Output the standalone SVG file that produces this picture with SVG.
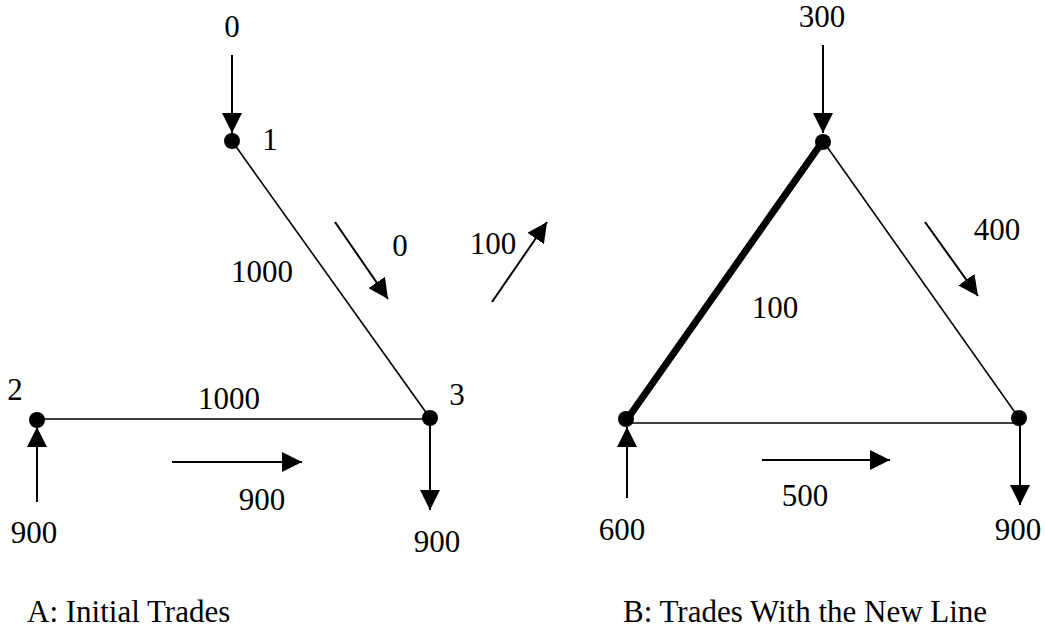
<svg xmlns="http://www.w3.org/2000/svg" width="1045" height="632" viewBox="0 0 1045 632">
<style>
text{font-family:"Liberation Serif","Times New Roman","DejaVu Serif",serif;font-size:31px;fill:#000}
.ln{stroke:#000;stroke-width:1.6;fill:none}
.ar{stroke:#000;stroke-width:2;fill:none;marker-end:url(#ah)}
.dot{fill:#000}
</style>
<defs>
<marker id="ah" viewBox="0 0 20 20" refX="20" refY="10" markerWidth="20" markerHeight="20" orient="auto" markerUnits="userSpaceOnUse"><path d="M0,0 L20,10 L0,20 z" fill="#000"/></marker>
</defs>
<rect width="1045" height="632" fill="#fff"/>
<g id="connectors">
<line class="ln" x1="232" y1="141" x2="430" y2="418"/>
<line class="ln" x1="37" y1="419" x2="430" y2="419"/>
<line class="ar" x1="232" y1="55" x2="232" y2="133"/>
<line class="ar" x1="37" y1="502" x2="37" y2="427"/>
<line class="ar" x1="430" y1="420" x2="430" y2="510"/>
<line class="ar" x1="335" y1="222" x2="388" y2="299"/>
<line class="ar" x1="172" y1="462" x2="302" y2="462"/>
<line x1="628" y1="418" x2="823" y2="141" stroke="#000" stroke-width="7"/>
<line class="ln" x1="823" y1="141" x2="1019" y2="418"/>
<line class="ln" x1="628" y1="423" x2="1019" y2="423"/>
<line class="ar" x1="823" y1="45" x2="823" y2="133"/>
<line class="ar" x1="627" y1="498" x2="627" y2="427"/>
<line class="ar" x1="1020" y1="420" x2="1020" y2="505"/>
<line class="ar" x1="492" y1="302" x2="547" y2="222"/>
<line class="ar" x1="925" y1="222" x2="978" y2="296"/>
<line class="ar" x1="762" y1="460" x2="890" y2="460"/>
</g>
<g id="node1"><circle class="dot" cx="232" cy="141" r="8"/><text x="270" y="150" text-anchor="middle">1</text></g>
<g id="node2"><circle class="dot" cx="37" cy="420" r="8"/><text x="15" y="400" text-anchor="middle">2</text></g>
<g id="node3"><circle class="dot" cx="430" cy="418" r="8"/><text x="457" y="405" text-anchor="middle">3</text></g>
<g id="nodeB1"><circle class="dot" cx="823" cy="142" r="8"/></g>
<g id="nodeB2"><circle class="dot" cx="626" cy="419" r="8"/></g>
<g id="nodeB3"><circle class="dot" cx="1019" cy="418" r="8"/></g>
<g id="labels">
<text x="232" y="37" text-anchor="middle">0</text>
<text x="400" y="256" text-anchor="middle">0</text>
<text x="262" y="282" text-anchor="middle">1000</text>
<text x="229" y="409" text-anchor="middle">1000</text>
<text x="262" y="510" text-anchor="middle">900</text>
<text x="34" y="543" text-anchor="middle">900</text>
<text x="437" y="552" text-anchor="middle">900</text>
<text x="27" y="622">A: Initial Trades</text>
<text x="822" y="27" text-anchor="middle">300</text>
<text x="493" y="254" text-anchor="middle">100</text>
<text x="775" y="318" text-anchor="middle">100</text>
<text x="997" y="240" text-anchor="middle">400</text>
<text x="805" y="506" text-anchor="middle">500</text>
<text x="622" y="540" text-anchor="middle">600</text>
<text x="1018" y="540" text-anchor="middle">900</text>
<text x="623" y="622">B: Trades With the New Line</text>
</g>
</svg>
